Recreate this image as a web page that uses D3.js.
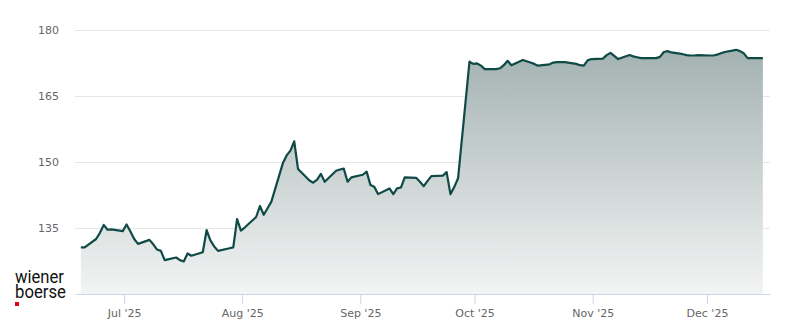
<!DOCTYPE html>
<html>
<head>
<meta charset="utf-8">
<script src="https://cdn.jsdelivr.net/npm/d3@7"></script>
<style>
    body { margin: 0; background: #fff; }
    .axis text { font-family: "DejaVu Sans", sans-serif; font-size: 11px; fill: #666; }
</style>
</head>
<body>
<script>
// trading days run from the first to the last close, weekdays only
const firstDay = new Date(2025, 5, 19);
const lastDay = new Date(2025, 11, 15);

// closing prices, one per trading day
const closes = [
    130.6, 130.6,
    132.5, 133.9, 135.7, 134.6, 134.7,
    134.3, 135.8, 134.2, 132.5, 131.4,
    132.3, 131.3, 130.1, 129.8, 127.7,
    128.3, 127.7, 127.4, 129.2, 128.7,
    129.5, 134.5, 132.2, 130.8, 129.8,
    130.4, 130.6, 137.0, 134.4, 135.1,
    137.5, 140.0, 138.0, 139.5, 141.0,
    149.7, 151.5, 152.6, 154.7, 148.4,
    145.8, 145.3, 146.0, 147.3, 145.5,
    148.0, 148.3, 148.5, 145.5, 146.5,
    147.1, 147.8, 144.8, 144.4, 142.7,
    144.0, 142.7, 144.0, 144.2, 146.5,
    146.4, 145.5, 144.5, 145.7, 146.8,
    146.9, 147.7, 142.7, 144.3, 146.3,
    172.8, 172.3, 172.4, 171.9, 171.1,
    171.1, 171.3, 172.0, 173.0, 172.0,
    173.2, 172.9, 172.6, 172.3, 171.9,
    172.2, 172.6, 172.7, 172.7, 172.7,
    172.3, 172.0, 171.9, 173.1, 173.4,
    173.5, 174.3, 174.8, 174.1, 173.4,
    174.3, 174.0, 173.8, 173.6, 173.6,
    173.6, 173.9, 175.0, 175.2, 174.9,
    174.5, 174.3, 174.2, 174.2, 174.3,
    174.2, 174.2, 174.4, 174.7, 175.0,
    175.5, 175.2, 174.7, 173.6, 173.6,
    173.6
];

// axis ticks
const monthTicks = [new Date(2025, 6, 1), new Date(2025, 7, 1), new Date(2025, 8, 1),
    new Date(2025, 9, 1), new Date(2025, 10, 1), new Date(2025, 11, 1)];
const monthLabels = ["Jul '25", "Aug '25", "Sep '25", "Oct '25", "Nov '25", "Dec '25"];
const priceTicks = [135, 150, 165, 180];

function init() {
    var width = 800, height = 324;
    var plot = { left: 75, right: 770, top: 30, bottom: 294 };

    //build the trading calendar (close stamped in the afternoon)
    var days = d3.timeDay.range(firstDay, d3.timeDay.offset(lastDay, 1))
        .filter(function (d) { return d.getDay() !== 0 && d.getDay() !== 6; });
    var dataset = days.map(function (d, i) {
        return { date: d3.timeHour.offset(d, 16), close: closes[i] };
    });

    var svg = d3.select("body").append("svg")
        .attr("width", width)
        .attr("height", height);

    //scales
    var xScale = d3.scaleTime()
        .domain([new Date(2025, 5, 18, 3), new Date(2025, 11, 17, 13)])
        .range([plot.left, plot.right]);

    var yScale = d3.scaleLinear()
        .domain([120, 180])
        .range([plot.bottom, plot.top]);

    //gradient for the area
    var grad = svg.append("defs").append("linearGradient")
        .attr("id", "areaFill")
        .attr("x1", 0).attr("y1", 0).attr("x2", 0).attr("y2", 1);
    grad.append("stop").attr("offset", "0%").attr("stop-color", "#a3b2b1");
    grad.append("stop").attr("offset", "100%").attr("stop-color", "#f3f4f4");

    //y grid and labels
    var yAxis = d3.axisLeft(yScale)
        .tickValues(priceTicks)
        .tickSize(-(plot.right - plot.left))
        .tickPadding(16);

    var yg = svg.append("g")
        .attr("class", "axis")
        .attr("transform", "translate(" + plot.left + ",0)")
        .call(yAxis);
    yg.select(".domain").remove();
    yg.selectAll(".tick line").attr("stroke", "#e6e6e6");

    //area + line
    var area = d3.area()
        .x(function (d) { return xScale(d.date); })
        .y0(yScale(120))
        .y1(function (d) { return yScale(d.close); });

    var line = d3.line()
        .x(function (d) { return xScale(d.date); })
        .y(function (d) { return yScale(d.close); });

    svg.append("path")
        .datum(dataset)
        .attr("d", area)
        .attr("fill", "url(#areaFill)");

    //x axis
    var xAxis = d3.axisBottom(xScale)
        .tickValues(monthTicks)
        .tickFormat(function (d, i) { return monthLabels[i]; })
        .tickSizeInner(10)
        .tickSizeOuter(0)
        .tickPadding(5);

    var xg = svg.append("g")
        .attr("class", "axis")
        .attr("transform", "translate(0," + plot.bottom + ")")
        .call(xAxis);
    xg.select(".domain").attr("stroke", "#ccd6eb");
    xg.selectAll(".tick line").attr("stroke", "#ccd6eb");

    svg.append("path")
        .datum(dataset)
        .attr("d", line)
        .attr("fill", "none")
        .attr("stroke", "#0f4a46")
        .attr("stroke-width", 2.2)
        .attr("stroke-linejoin", "round");

    //logo: one text block, two lines
    var logo = svg.append("text")
        .style("font-family", "Roboto, 'Liberation Sans', sans-serif")
        .style("font-size", "19px")
        .attr("fill", "#111");
    logo.append("tspan").attr("x", 15).attr("y", 282.5)
        .attr("textLength", 49).attr("lengthAdjust", "spacingAndGlyphs")
        .text("wiener");
    logo.append("tspan").attr("x", 15).attr("y", 297.5)
        .attr("textLength", 51).attr("lengthAdjust", "spacingAndGlyphs")
        .text("boerse");
    svg.append("rect")
        .attr("x", 15).attr("y", 302)
        .attr("width", 4).attr("height", 4)
        .attr("fill", "#e2001a");
}

window.onload = init;
</script>
</body>
</html>
